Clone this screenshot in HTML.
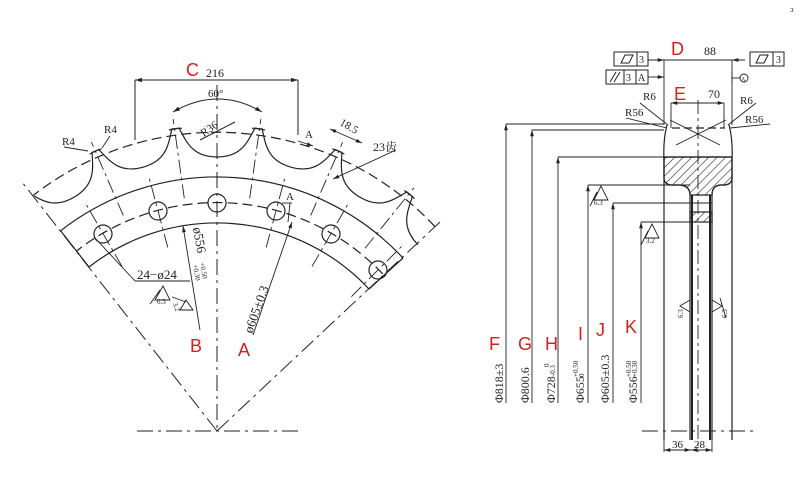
<!DOCTYPE html>
<html><head><meta charset="utf-8"><style>
html,body{margin:0;padding:0;background:#fff;width:800px;height:500px;overflow:hidden}
svg{display:block}
text{font-family:"Liberation Serif","Noto Serif CJK SC",serif;fill:#222}
.r{font-family:"Liberation Sans",sans-serif;fill:#d9201c;font-size:18px}
</style></head><body>
<svg width="800" height="500" viewBox="0 0 800 500" xmlns="http://www.w3.org/2000/svg">
<defs>
<clipPath id="sec"><polygon points="217,431 10,165 217,40 450,215"/></clipPath>
<marker id="ar" viewBox="0 0 10 10" refX="10" refY="5" markerWidth="7" markerHeight="7" orient="auto-start-reverse"><path d="M0,2 L10,5 L0,8z" fill="#222"/></marker>
<pattern id="h" width="6" height="6" patternUnits="userSpaceOnUse" patternTransform="rotate(45)"><line x1="0" y1="0" x2="0" y2="6" stroke="#222" stroke-width="1.2"/></pattern>
</defs>
<g fill="none" stroke="#222" stroke-width="1.2">
<g clip-path="url(#sec)">
 <g transform="translate(217,431)">
  <g id="v"><path d="M-48,-301 L-38,-303 C-30,-288 -24,-274 0,-274 C24,-274 30,-288 38,-303 L48,-301"/></g>
  <use href="#v" transform="rotate(15.65)"/><use href="#v" transform="rotate(31.3)"/><use href="#v" transform="rotate(46.96)"/>
  <use href="#v" transform="rotate(-15.65)"/><use href="#v" transform="rotate(-31.3)"/><use href="#v" transform="rotate(-46.96)"/>
  <path d="M-229,-192 A299,299 0 0 1 229,-192" stroke-dasharray="10,5"/>
  <path d="M-175,-146.6 A228,228 0 0 1 175,-146.6" stroke-dasharray="10,5"/>
  <g stroke-dasharray="14,4,3,4" stroke-width="0.9">
   <line x1="0" y1="-190" x2="0" y2="-262" transform="rotate(15)"/><line x1="0" y1="-190" x2="0" y2="-262" transform="rotate(30)"/><line x1="0" y1="-190" x2="0" y2="-262" transform="rotate(45)"/>
   <line x1="0" y1="-190" x2="0" y2="-262" transform="rotate(-15)"/><line x1="0" y1="-190" x2="0" y2="-262" transform="rotate(-30)"/>
   <line x1="0" y1="-235" x2="0" y2="-315" transform="rotate(8)"/><line x1="0" y1="-235" x2="0" y2="-315" transform="rotate(23.5)"/><line x1="0" y1="-235" x2="0" y2="-315" transform="rotate(39)"/>
   <line x1="0" y1="-235" x2="0" y2="-315" transform="rotate(-8)"/><line x1="0" y1="-235" x2="0" y2="-315" transform="rotate(-23.5)"/><line x1="0" y1="-235" x2="0" y2="-315" transform="rotate(-39)"/>
  </g>
 </g>
</g>
<path d="M60.6,230.8 A254,254 0 0 1 403,258"/>
<path d="M89,267 A208,208 0 0 1 369,289"/>
<line x1="60.6" y1="230.8" x2="89" y2="267"/><line x1="403" y1="258" x2="369" y2="289"/>
<g stroke-dasharray="16,5,3,5" stroke-width="1">
 <line x1="217" y1="431" x2="22" y2="182"/><line x1="217" y1="431" x2="440" y2="222"/>
 <line x1="217" y1="85" x2="217" y2="431"/><line x1="137" y1="431" x2="298" y2="431"/>
</g>
<circle cx="217" cy="203" r="9"/><circle cx="158" cy="211" r="9"/><circle cx="276" cy="211" r="9"/>
<circle cx="103" cy="234" r="9"/><circle cx="331" cy="234" r="9"/><circle cx="378" cy="270" r="9"/>
<line x1="135" y1="80" x2="298" y2="80" marker-start="url(#ar)" marker-end="url(#ar)" stroke-width="1"/>
<line x1="135" y1="80" x2="135" y2="140" stroke-width="1"/><line x1="298" y1="80" x2="298" y2="135" stroke-width="1"/>
<path d="M173,112 Q218,86 262,112" marker-start="url(#ar)" marker-end="url(#ar)" stroke-width="1"/>
<line x1="200" y1="140" x2="235" y2="122" stroke-width="1"/>
<line x1="64" y1="147" x2="88" y2="151" stroke-width="0.9"/><line x1="110" y1="136" x2="102" y2="148" stroke-width="0.9"/>
<line x1="298" y1="141" x2="313" y2="146" stroke-width="0.9" marker-end="url(#ar)"/>
<line x1="330" y1="129" x2="362" y2="143" stroke-width="0.9" marker-start="url(#ar)" marker-end="url(#ar)"/>
<line x1="396" y1="150" x2="333" y2="179" stroke-width="0.9" marker-end="url(#ar)"/>
<line x1="290" y1="203" x2="288" y2="222" stroke-width="0.9"/><line x1="282" y1="203" x2="292" y2="203" stroke-width="0.9"/>
<line x1="135" y1="281" x2="190" y2="281" stroke-width="0.9"/><line x1="135" y1="281" x2="95" y2="238" stroke-width="0.9"/>
<line x1="183" y1="226" x2="200" y2="330" stroke-width="0.9" marker-start="url(#ar)"/>
<line x1="292" y1="222" x2="253" y2="335" stroke-width="0.9" marker-start="url(#ar)"/>
<path d="M155,300 L163,286 L170,300 Z M150,304 L160,290" stroke-width="0.9"/>
<path d="M180,310 L186,300 L193,310 Z M172,297 L186,302" stroke-width="0.9"/>
<path d="M664,440 L664,160 Q663,140 667,125 M732,440 L732,160 Q733,140 729,125" />
<line x1="672" y1="128" x2="725" y2="128" stroke-dasharray="8,4"/>
<path d="M664,157 L732,157 L732,178 Q732,184 725,185 L720,185 Q712,186 712,195 L712,440 M664,157 L664,178 Q664,184 671,185 L680,185 Q690,186 690,195 L690,440" />
<path d="M664,157 L732,157 L732,178 Q732,184 725,185 L720,185 Q712,186 712,195 L690,195 Q690,186 680,185 L671,185 Q664,184 664,178 Z" fill="url(#h)" stroke-width="1.2"/>
<rect x="690" y="212" width="22" height="10" fill="url(#h)"/>
<line x1="692" y1="195" x2="692" y2="440" stroke-width="2"/><line x1="710" y1="195" x2="710" y2="440" stroke-width="2"/>
<line x1="698" y1="100" x2="698" y2="452" stroke-dasharray="14,4,3,4" stroke-width="0.9"/>
<line x1="642" y1="431" x2="755" y2="431" stroke-dasharray="16,5,3,5" stroke-width="0.9"/>
<line x1="670" y1="120" x2="720" y2="145" stroke-width="0.9"/><line x1="726" y1="120" x2="676" y2="145" stroke-width="0.9"/>
<g stroke-width="0.9">
<line x1="506" y1="403" x2="506" y2="124" marker-end="url(#ar)"/><line x1="506" y1="124" x2="664" y2="124"/>
<line x1="532" y1="403" x2="532" y2="130" marker-end="url(#ar)"/><line x1="532" y1="130" x2="664" y2="130"/>
<line x1="558" y1="403" x2="558" y2="157" marker-end="url(#ar)"/><line x1="558" y1="157" x2="664" y2="157"/>
<line x1="588" y1="403" x2="588" y2="185" marker-end="url(#ar)"/><line x1="588" y1="185" x2="690" y2="185"/>
<line x1="613" y1="403" x2="613" y2="203" marker-end="url(#ar)"/><line x1="613" y1="203" x2="712" y2="203"/>
<line x1="641" y1="403" x2="641" y2="222" marker-end="url(#ar)"/><line x1="641" y1="222" x2="712" y2="222"/>
<path d="M594,200 L601,186 L608,200 Z M590,206 L597,192"/>
<path d="M645,238 L652,224 L659,238 Z M641,245 L648,231"/>
<line x1="664" y1="60" x2="664" y2="125"/><line x1="732" y1="60" x2="732" y2="125"/>
<line x1="648" y1="60" x2="745" y2="60"/>
<line x1="652" y1="60" x2="664" y2="60" marker-end="url(#ar)"/><line x1="745" y1="60" x2="732" y2="60" marker-end="url(#ar)"/>
<line x1="648" y1="77" x2="664" y2="77" marker-end="url(#ar)"/>
<line x1="732" y1="72" x2="732" y2="84"/><line x1="732" y1="78" x2="740" y2="78"/><circle cx="744" cy="78" r="4"/>
<line x1="671" y1="103" x2="724" y2="103" marker-start="url(#ar)" marker-end="url(#ar)"/>
<line x1="671" y1="103" x2="671" y2="128"/><line x1="724" y1="103" x2="724" y2="128"/>
<line x1="640" y1="103" x2="668" y2="125"/><line x1="626" y1="118" x2="667" y2="128"/>
<line x1="756" y1="103" x2="728" y2="125"/><line x1="770" y1="124" x2="730" y2="128"/>
<line x1="664" y1="440" x2="664" y2="452"/><line x1="712" y1="440" x2="712" y2="452"/>
<line x1="664" y1="450" x2="691" y2="450" marker-start="url(#ar)" marker-end="url(#ar)"/>
<line x1="691" y1="450" x2="712" y2="450" marker-start="url(#ar)" marker-end="url(#ar)"/>
<path d="M690,300 L680,306 L690,312 Z"/><path d="M712,300 L722,306 L712,312 Z M720,298 L726,318"/>
</g>
<g stroke-width="1">
<rect x="614" y="52" width="34" height="14"/><line x1="637" y1="52" x2="637" y2="66"/><path d="M621,63 L625,55 L633,55 L629,63 Z"/>
<rect x="750" y="52" width="34" height="14"/><line x1="773" y1="52" x2="773" y2="66"/><path d="M756,63 L760,55 L768,55 L764,63 Z"/>
<rect x="606" y="70" width="42" height="14"/><line x1="624" y1="70" x2="624" y2="84"/><line x1="636" y1="70" x2="636" y2="84"/>
<path d="M610,82 L616,72 M614,82 L620,72"/>
</g>
</g>
<g font-size="12">
<text x="206" y="77">216</text><text x="208" y="97" font-size="11">60°</text>
<text x="200" y="135" font-size="11" transform="rotate(-35 205 130)">R36</text>
<text x="62" y="145" font-size="11">R4</text><text x="104" y="133" font-size="11">R4</text>
<text x="305" y="138" font-size="11">A</text><text x="286" y="200" font-size="11">A</text>
<text x="338" y="128" font-size="11" transform="rotate(30 345 128)">18.5</text>
<text x="373" y="151" font-size="12">23齿</text>
<text x="137" y="279" font-size="13">24−ø24</text>
<text x="157" y="304" font-size="7">6.3</text><text x="174" y="310" font-size="7" transform="rotate(70 178 306)">3.2</text>
<text x="193" y="228" font-size="13" transform="rotate(80 193 228)">ø556</text>
<text x="200" y="263" font-size="7" transform="rotate(80 200 263)">+0.50</text>
<text x="193" y="265" font-size="7" transform="rotate(80 193 265)">+0.30</text>
<text x="252" y="334" font-size="13" transform="rotate(-70 252 334)">ø605±0.3</text>
<text x="704" y="55">88</text><text x="708" y="98">70</text>
<text x="639" y="63" font-size="10">3</text><text x="776" y="63" font-size="10">3</text>
<text x="626" y="81" font-size="10">3</text><text x="638" y="81" font-size="10">A</text>
<text x="741" y="81" font-size="6">A</text>
<text x="643" y="100" font-size="11">R6</text><text x="740" y="104" font-size="11">R6</text>
<text x="625" y="116" font-size="11">R56</text><text x="745" y="123" font-size="11">R56</text>
<text x="594" y="205" font-size="7">6.3</text><text x="646" y="243" font-size="7">3.2</text>
<text x="672" y="448" font-size="11">36</text><text x="694" y="448" font-size="11">28</text>
<text x="683" y="318" font-size="7" transform="rotate(-90 683 318)">6.3</text>
<text x="727" y="318" font-size="7" transform="rotate(-90 727 318)">6.3</text>
<text x="503" y="403" font-size="12" transform="rotate(-90 503 403)">Φ818±3</text>
<text x="529" y="403" font-size="12" transform="rotate(-90 529 403)">Φ800.6</text>
<text x="555" y="403" font-size="12" transform="rotate(-90 555 403)">Φ728<tspan font-size="7">-0.3</tspan></text>
<text x="549" y="367" font-size="7" transform="rotate(-90 549 367)">0</text>
<text x="584" y="403" font-size="12" transform="rotate(-90 584 403)">Φ655</text>
<text x="578" y="377" font-size="7" transform="rotate(-90 578 377)">+0.50</text>
<text x="584" y="377" font-size="7" transform="rotate(-90 584 377)">0</text>
<text x="609" y="403" font-size="12" transform="rotate(-90 609 403)">Φ605±0.3</text>
<text x="637" y="403" font-size="12" transform="rotate(-90 637 403)">Φ556</text>
<text x="631" y="377" font-size="7" transform="rotate(-90 631 377)">+0.50</text>
<text x="637" y="377" font-size="7" transform="rotate(-90 637 377)">+0.30</text>
</g>
<text class="r" x="186" y="76">C</text>
<text class="r" x="190" y="352">B</text><text class="r" x="238" y="356">A</text>
<text class="r" x="671" y="55">D</text><text class="r" x="674" y="100">E</text>
<text class="r" x="489" y="350">F</text><text class="r" x="518" y="350">G</text><text class="r" x="545" y="350">H</text>
<text class="r" x="578" y="340">I</text><text class="r" x="596" y="336">J</text><text class="r" x="625" y="333">K</text>
<text x="790" y="12" font-size="8">ↄ</text>
</svg>
</body></html>
